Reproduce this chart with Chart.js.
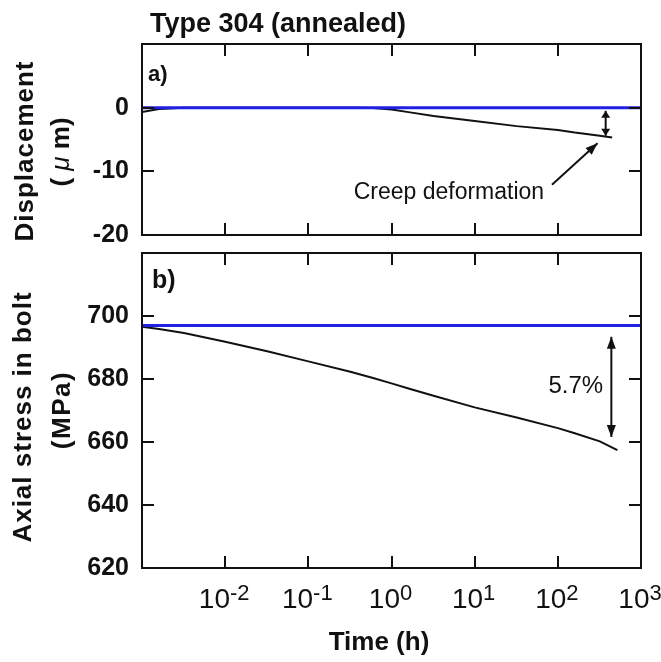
<!DOCTYPE html>
<html>
<head>
<meta charset="utf-8">
<script src="https://cdn.jsdelivr.net/npm/chart.js@4.4.1/dist/chart.umd.min.js"></script>
<style>
  html, body { margin: 0; padding: 0; background: #fff; }
  #wrap { position: relative; width: 661px; height: 662px; }
  canvas { position: absolute; left: 0; }
  #dispCanvas { top: 0; }
  #stressCanvas { top: 245px; }
</style>
</head>
<body>
<div id="wrap">
  <canvas id="dispCanvas" width="661" height="245"></canvas>
  <canvas id="stressCanvas" width="661" height="417"></canvas>
</div>
<script>
// ---- data ----------------------------------------------------------------
// reference (no creep) levels
const refTime   = [0.001, 1000];
const dispRef   = [0, 0];          // displacement, µm
const stressRef = [697, 697];      // axial stress, MPa

// measured displacement (creep deformation)
const dispTime = [0.001, 0.0016, 0.0032, 0.01, 0.032, 0.1, 0.32, 0.6, 1, 1.6, 3.2, 10, 32, 100, 160, 320, 450];
const dispVal  = [-0.7, -0.2, 0, 0, 0, 0, 0, -0.05, -0.3, -0.7, -1.3, -2.1, -2.9, -3.5, -3.9, -4.4, -4.7];

// measured axial stress in the bolt (relaxation)
const stressTime = [0.001, 0.0016, 0.0032, 0.01, 0.032, 0.1, 0.32, 0.6, 1, 1.6, 3.2, 10, 32, 100, 160, 320, 520];
const stressVal  = [696.6, 695.9, 694.6, 691.8, 688.8, 685.6, 682.3, 680.3, 678.6, 677.0, 674.7, 671.0, 667.8, 664.4, 662.8, 660.2, 657.4];

// axis ticks
const timeTicks     = [0.01, 0.1, 1, 10, 100];
const timeLabelExps = [-2, -1, 0, 1, 2, 3];
const dispTicks     = [-20, -10, 0];
const stressTicks   = [620, 640, 660, 680, 700];
const relaxLabel    = '5.7%';

// ---- styling ---------------------------------------------------------------
const FONT  = '"Liberation Sans", Arial, Helvetica, sans-serif';
const INK   = '#111';
const BLUE  = '#1f1fe6';
Chart.defaults.font.family = FONT;
Chart.defaults.color = INK;

const pts = (xs, ys) => xs.map((x, i) => ({ x, y: ys[i] }));

function arrowHead(ctx, x1, y1, x2, y2, len, half) {
  const a = Math.atan2(y2 - y1, x2 - x1);
  ctx.beginPath();
  ctx.moveTo(x2, y2);
  ctx.lineTo(x2 - len * Math.cos(a) + half * Math.sin(a), y2 - len * Math.sin(a) - half * Math.cos(a));
  ctx.lineTo(x2 - len * Math.cos(a) - half * Math.sin(a), y2 - len * Math.sin(a) + half * Math.cos(a));
  ctx.closePath();
  ctx.fill();
}

function arrow(ctx, x1, y1, x2, y2, both, len, half) {
  ctx.beginPath();
  ctx.moveTo(x1, y1);
  ctx.lineTo(x2, y2);
  ctx.stroke();
  arrowHead(ctx, x1, y1, x2, y2, len, half);
  if (both) arrowHead(ctx, x2, y2, x1, y1, len, half);
}

// text runs laid along one rotated line, centred on (cx, cy)
function rotatedRuns(ctx, runs, cx, cy, spacing) {
  ctx.save();
  ctx.translate(cx, cy);
  ctx.rotate(-Math.PI / 2);
  ctx.letterSpacing = spacing || '0px';
  ctx.textBaseline = 'middle';
  ctx.textAlign = 'left';
  let w = 0;
  runs.forEach(r => { ctx.font = r.font; w += ctx.measureText(r.t).width; });
  let x = -w / 2;
  runs.forEach(r => { ctx.font = r.font; ctx.fillText(r.t, x, 0); x += ctx.measureText(r.t).width; });
  ctx.restore();
}

// box around the plot area with inward tick marks on all four sides
const framePlugin = {
  id: 'frame',
  afterDatasetsDraw(chart, args, opts) {
    const { ctx, chartArea: a, scales: { x, y } } = chart;
    const L = 12;
    ctx.save();
    ctx.strokeStyle = INK;
    ctx.lineWidth = 2;
    ctx.strokeRect(a.left, a.top, a.right - a.left, a.bottom - a.top);
    ctx.beginPath();
    opts.xTicks.forEach(v => {
      const px = Math.round(x.getPixelForValue(v));
      ctx.moveTo(px, a.bottom); ctx.lineTo(px, a.bottom - L);
      ctx.moveTo(px, a.top);    ctx.lineTo(px, a.top + L);
    });
    opts.yTicks.forEach(v => {
      const py = Math.round(y.getPixelForValue(v));
      ctx.moveTo(a.left, py);  ctx.lineTo(a.left + L, py);
      ctx.moveTo(a.right, py); ctx.lineTo(a.right - L, py);
    });
    ctx.stroke();
    ctx.restore();
  }
};

// panel (a): title, axis title, creep annotations
const dispTextPlugin = {
  id: 'dispText',
  afterDraw(chart) {
    const { ctx, scales: { x, y } } = chart;
    ctx.save();
    ctx.fillStyle = INK;
    ctx.strokeStyle = INK;
    ctx.textBaseline = 'alphabetic';
    ctx.font = 'bold 27px ' + FONT;
    ctx.fillText('Type 304 (annealed)', 150, 32);

    ctx.font = 'bold 22px ' + FONT;
    ctx.textBaseline = 'middle';
    ctx.fillText('a)', 148, 75);

    rotatedRuns(ctx, [{ t: 'Displacement', font: 'bold 26px ' + FONT }], 26, 151, '1px');
    rotatedRuns(ctx, [
      { t: '( ', font: 'bold 26px ' + FONT },
      { t: 'μ', font: 'italic 26px ' + FONT },
      { t: ' m)', font: 'bold 26px ' + FONT }
    ], 62, 152, '0px');

    // creep deformation gap
    ctx.lineWidth = 2;
    const ax = x.getPixelForValue(376);
    arrow(ctx, ax, y.getPixelForValue(-0.5), ax, y.getPixelForValue(-4.4), true, 7, 4.5);

    ctx.font = '23px ' + FONT;
    ctx.textAlign = 'center';
    ctx.fillText('Creep deformation', x.getPixelForValue(4.9), y.getPixelForValue(-13.4));
    arrow(ctx, x.getPixelForValue(85), y.getPixelForValue(-12.1),
               x.getPixelForValue(300), y.getPixelForValue(-5.6), false, 12, 4.5);
    ctx.restore();
  }
};

// panel (b): axis titles, log tick labels, relaxation annotation
const stressTextPlugin = {
  id: 'stressText',
  afterDraw(chart) {
    const { ctx, chartArea: a, scales: { x, y } } = chart;
    ctx.save();
    ctx.fillStyle = INK;
    ctx.strokeStyle = INK;
    ctx.textBaseline = 'middle';
    ctx.font = 'bold 25px ' + FONT;
    ctx.fillText('b)', 152, 36);

    rotatedRuns(ctx, [{ t: 'Axial stress in bolt', font: 'bold 26px ' + FONT }], 24, 172, '1px');
    rotatedRuns(ctx, [{ t: '(MPa)', font: 'bold 26px ' + FONT }], 63, 165, '1.5px');

    // decade labels 10^n
    ctx.textBaseline = 'alphabetic';
    ctx.textAlign = 'left';
    const baseFont = '28px ' + FONT, supFont = '22px ' + FONT;
    const baseY = a.bottom + 40;
    timeLabelExps.forEach(e => {
      const sup = e < 0 ? '-' + Math.abs(e) : String(e);
      ctx.font = baseFont; const w1 = ctx.measureText('10').width;
      ctx.font = supFont;  const w2 = ctx.measureText(sup).width;
      const x0 = x.getPixelForValue(Math.pow(10, e)) - (w1 + w2) / 2 - 1;
      ctx.font = baseFont; ctx.fillText('10', x0, baseY);
      ctx.font = supFont;  ctx.fillText(sup, x0 + w1, baseY - 8);
    });

    ctx.font = 'bold 26px ' + FONT;
    ctx.textAlign = 'center';
    ctx.fillText('Time (h)', 379, 405);

    // stress drop arrow
    ctx.lineWidth = 2;
    const ax = x.getPixelForValue(440);
    arrow(ctx, ax, y.getPixelForValue(693.4), ax, y.getPixelForValue(661.6), true, 12, 4.5);
    ctx.font = '24px ' + FONT;
    ctx.textAlign = 'right';
    ctx.textBaseline = 'middle';
    ctx.fillText(relaxLabel, x.getPixelForValue(350), y.getPixelForValue(677.6));
    ctx.restore();
  }
};

function timeAxis(height) {
  return {
    type: 'logarithmic',
    min: 0.001,
    max: 1000,
    grid: { display: false },
    border: { display: false },
    ticks: { display: false },
    afterFit: s => { s.height = height; s.paddingLeft = 0; s.paddingRight = 0; }
  };
}

function valueAxis(min, max, tickList) {
  return {
    type: 'linear',
    min, max,
    grid: { display: false, drawTicks: false },
    border: { display: false },
    ticks: { font: { size: 25, weight: 'bold' }, color: INK, padding: 13 },
    afterBuildTicks: s => { s.ticks = tickList.map(v => ({ value: v })); },
    afterFit: s => { s.width = 142; s.paddingTop = 0; s.paddingBottom = 0; }
  };
}

const common = {
  responsive: false,
  animation: false,
  devicePixelRatio: 1,
  plugins: { legend: { display: false }, tooltip: { enabled: false } },
  elements: { point: { radius: 0 }, line: { tension: 0 } }
};

new Chart(document.getElementById('dispCanvas'), {
  type: 'line',
  data: {
    datasets: [
      { data: pts(refTime, dispRef), borderColor: BLUE, borderWidth: 3 },
      { data: pts(dispTime, dispVal), borderColor: INK, borderWidth: 2 }
    ]
  },
  options: {
    ...common,
    layout: { padding: { top: 44, right: 20, left: 0, bottom: 0 } },
    scales: { x: timeAxis(10), y: valueAxis(-20, 10, dispTicks) },
    plugins: { ...common.plugins, frame: { xTicks: timeTicks, yTicks: dispTicks } }
  },
  plugins: [framePlugin, dispTextPlugin]
});

new Chart(document.getElementById('stressCanvas'), {
  type: 'line',
  data: {
    datasets: [
      { data: pts(refTime, stressRef), borderColor: BLUE, borderWidth: 3 },
      { data: pts(stressTime, stressVal), borderColor: INK, borderWidth: 2 }
    ]
  },
  options: {
    ...common,
    layout: { padding: { top: 8, right: 20, left: 0, bottom: 0 } },
    scales: { x: timeAxis(94), y: valueAxis(620, 720, stressTicks) },
    plugins: { ...common.plugins, frame: { xTicks: timeTicks, yTicks: stressTicks } }
  },
  plugins: [framePlugin, stressTextPlugin]
});
</script>
</body>
</html>
